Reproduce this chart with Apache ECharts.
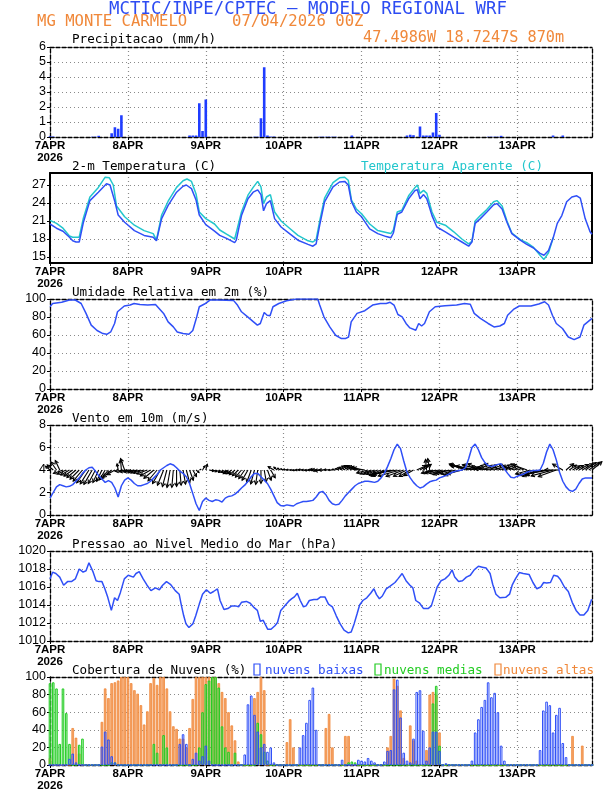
<!DOCTYPE html>
<html><head><meta charset="utf-8">
<script src="https://cdn.jsdelivr.net/npm/echarts@6/dist/echarts.min.js"></script>
<style>html,body{margin:0;padding:0;background:#fff}#c{width:612px;height:792px}</style>
</head><body><div id="c"></div>
<script>
// ---------- labels ----------
const dayLabels = ['7APR','8APR','9APR','10APR','11APR','12APR','13APR'];
const yearLabel = '2026';
const dayTicks = [0,24,48,72,96,120,144];
const tempTicks = [15,18,21,24,27];

// ---------- precipitation (mm/h), hour -> value ----------
const precipByHour = {0:0.05,1:0.03,13:0.02,14:0.02,15:0.08,19:0.25,20:0.65,21:0.55,22:1.45,
  43:0.1,44:0.1,45:0.1,46:2.25,47:0.4,48:2.5,63:0.02,64:0.02,65:1.25,66:4.65,67:0.1,68:0.03,69:0.03,
  83:0.02,84:0.02,85:0.02,86:0.02,87:0.02,88:0.02,93:0.1,110:0.1,111:0.15,112:0.12,114:0.7,115:0.1,116:0.1,117:0.1,
  118:0.3,119:1.6,120:0.15,135:0.02,136:0.02,137:0.02,138:0.02,139:0.08,155:0.1,158:0.1};

// ---------- temperature (C), [hour, value] ----------
const tempAir = [[0,20.5],[2,19.8],[4,19.3],[6,18.3],[7,17.7],[8,17.5],[9,17.5],[9.5,17.7],[10.3,20.8],[12.3,24.4],[14.9,25.8],[17.4,27.2],[18.5,27.0],[20,24.2],[21,22],[23,20.8],[26,19.4],[29,18.6],[31.8,18.3],[32.8,17.7],[34.4,21.4],[36.4,23.6],[39,25.8],[41,26.8],[42,27.0],[43.6,26.4],[45,24.5],[46,22],[48,20.4],[50.7,19.3],[52.3,18.6],[54.4,18.1],[56.9,17.4],[57.4,17.8],[59,21.9],[61,24.7],[62.6,25.8],[64,26.2],[65,25.4],[65.8,22.7],[66.7,23.9],[67.9,24.4],[69.2,21.4],[71.2,20],[73.8,18.9],[76.4,17.8],[79.5,17.1],[81,16.8],[82,17.2],[83.1,20.3],[84.6,24.2],[87.2,26.7],[89.2,27.5],[90.8,27.6],[91.9,27.0],[92.9,24.2],[94.4,22.5],[96,21.7],[98.5,19.7],[101,18.9],[103.6,18.4],[105,18.2],[105.8,19.0],[107,22.1],[108.4,22.5],[110.5,24.7],[112.5,26.1],[113.2,26.2],[114,24.7],[115.1,25.4],[116.1,24.7],[117.7,21.9],[119.2,20],[121.8,19.2],[124.4,18.3],[126.9,17.5],[129,16.8],[130,17.5],[131,20.6],[132.6,21.4],[134.6,22.5],[136.7,23.7],[137.7,23.9],[139.3,23],[140.8,20.8],[142.3,18.9],[144.9,17.8],[146.9,17.1],[149,16.5],[151,15.6],[152.2,15.3],[153.6,16.1],[155.1,18.3],[156.3,20.6],[157.7,21.9],[159.2,24.2],[160.8,25],[162.3,25.2],[163.4,24.8],[164.9,21.4],[166.4,19.2],[167,18.8]];
const tempApparent = [[0,21.1],[2,20.6],[4,19.8],[6,18.5],[7,18.3],[9,18.3],[9.6,18.6],[10.3,21.5],[12.3,25],[14.9,26.6],[17,28.3],[18.3,28.2],[19.5,27],[20.5,23.5],[23,21.7],[26,20.3],[29,19.4],[31.8,18.9],[32.8,17.8],[34.4,22],[36.4,24.3],[39,26.6],[41,27.7],[42.2,28],[43.6,27.6],[45,25.5],[46,22.5],[48,21.4],[50.7,20.5],[52.3,19.5],[54.4,18.8],[56.9,18],[57.4,18.2],[59,22.5],[61,25.3],[62.6,26.6],[64,27.6],[65,26.7],[65.8,23.9],[66.7,25],[67.9,25.4],[69.2,22.5],[71.2,21],[73.8,19.8],[76.4,18.6],[79.5,17.7],[81,17.5],[82,17.9],[83.1,21],[84.6,24.8],[87.2,27.4],[89.2,28.2],[90.8,28.3],[91.9,27.8],[92.9,24.5],[94.4,23],[96,22.2],[98.5,20.5],[101,19.4],[103.6,19.1],[105,18.9],[105.8,19.5],[107,22.5],[108.4,22.8],[110.5,25.2],[112.5,26.6],[113.2,27],[114,25.6],[115.1,26.1],[116.1,25.6],[117.7,22.5],[119.2,20.8],[121.8,20.3],[124.4,19.2],[126.9,18],[129,17.2],[130,17.6],[131,21],[132.6,21.9],[134.6,22.9],[136.7,24.2],[137.7,24.4],[139.3,23.5],[140.8,21],[142.3,19],[144.9,17.9],[146.9,17.4],[149,16.6],[151,15.3],[152.2,14.6],[153.6,15.7],[155.1,18.3]];

// ---------- relative humidity (%) ----------
const relHum = [[0,91.4],[0.8,95],[3.6,96.3],[6,98.9],[7.8,98.9],[9.6,95],[11.1,84],[12.7,71],[14.5,65],[16.3,61.6],[17.5,60.8],[18.7,63.4],[19.9,72.8],[20.8,85.8],[22.9,92.2],[24.7,93.3],[25.9,95],[27.7,93.8],[30.1,93.3],[32.5,94],[32.9,95],[35,84],[36.4,74.6],[38,69],[39.2,63.4],[41,61.6],[42.8,60.8],[44,65],[45.2,80],[46,91.4],[47.6,94.4],[49.4,98.9],[51.8,98.9],[56.6,98.2],[57.8,93],[59,85.8],[60.9,80.2],[62.7,74.6],[63.9,70.9],[64.8,72.8],[66,85],[66.9,82],[67.8,81.3],[68.7,91.4],[70.5,95],[72.9,98],[75.9,100],[82.5,100],[83.1,93.3],[84.4,80.2],[86.2,69],[88,59.7],[89.8,56],[91,56],[92,57.8],[92.8,74.6],[94.6,84],[97,87],[99.4,93.3],[101.8,95],[103.6,95],[104.8,96.3],[106,93.3],[107.2,82.8],[108.5,80.2],[109.7,72.8],[110.9,67.9],[112.7,65.3],[113.6,72.8],[114.5,70],[115.4,72.8],[116.9,85.8],[118.7,91.4],[121.7,92.5],[125.3,93.3],[127.7,95],[129.5,94.2],[130.7,84],[132.6,78.4],[135,72.8],[136.8,69],[138.6,70],[140,72.8],[141,82],[142.8,88.4],[144.6,92.2],[148.2,92.2],[150.6,94.4],[152.4,97],[153.6,93.3],[154.8,82],[156,72.8],[157.9,67.2],[159.7,57.8],[161.5,54.8],[163.3,57.8],[164.5,70.9],[167,78.4]];

// ---------- wind 10 m: hourly speed (m/s) and direction the arrow points (deg, 0=east, 90=north) ----------
const windSpeed = [
 1.5,2.0,2.5,2.7,2.6,2.5,2.55,2.7,3.0,3.3,3.7,4.0,4.2,4.25,3.9,3.5,3.2,2.9,3.05,2.9,2.4,1.6,2.6,3.1,
 3.3,3.1,2.8,2.6,2.6,2.7,2.8,3.0,3.3,3.6,4.0,4.2,4.4,4.55,4.45,4.2,3.9,3.7,3.4,2.8,1.9,1.0,0.4,1.2,
 1.5,1.3,1.2,1.35,1.3,1.15,1.5,1.65,1.7,1.85,2.1,2.4,2.65,3.0,3.4,3.7,3.7,3.4,3.1,2.8,2.3,1.7,1.1,0.85,
 0.8,0.9,0.85,0.8,1.0,1.1,1.2,1.2,1.25,1.3,1.6,2.0,2.1,1.8,1.3,1.0,0.9,0.95,1.3,1.7,2.0,2.3,2.6,2.8,
 2.9,3.0,3.0,2.95,2.9,3.0,3.3,3.7,4.3,5.0,5.8,6.3,5.9,4.8,3.8,3.3,2.9,2.6,2.4,2.5,2.75,2.95,3.05,3.1,
 3.3,3.4,3.5,3.65,3.8,3.9,3.95,4.0,4.2,5.0,6.0,6.3,5.8,5.1,4.65,4.4,4.3,4.4,4.5,4.55,4.1,3.7,3.35,3.3,
 3.45,3.55,3.65,3.8,3.9,3.95,3.95,4.0,4.6,5.6,6.3,5.8,4.9,3.8,3.0,2.5,2.2,2.1,2.3,2.8,3.2,3.3,3.3,3.3];
const windDir = [
 140,140,125,115,200,205,210,215,220,225,230,235,238,240,242,245,245,240,230,220,210,100,95,110,
 185,188,190,192,195,195,200,210,220,230,240,248,255,260,265,270,275,280,285,290,300,320,20,60,
 75,350,340,335,330,330,320,215,215,220,225,230,235,240,250,255,262,270,280,290,300,150,140,150,
 160,170,175,180,185,180,175,180,185,180,175,180,185,180,175,180,170,160,155,155,150,150,155,160,
 165,170,195,200,200,200,205,205,200,195,190,190,195,200,205,210,210,25,30,35,95,100,195,195,
 190,195,200,195,190,195,200,195,160,165,165,170,170,165,160,170,175,170,165,160,165,160,155,160,
 165,160,155,160,195,200,205,200,195,190,190,195,200,180,150,40,35,30,30,30,30,35,35,40];
const windArrowBase = 4;

// ---------- sea level pressure (hPa) ----------
const pressure = [[0,1016.9],[0.8,1017.65],[1.8,1017.5],[3,1017.1],[4.2,1016.2],[5.4,1016.6],[6.6,1016.6],[7.8,1016.9],[9,1018],[9.6,1018.2],[10.2,1017.65],[11.1,1017.8],[12,1018.7],[13.3,1017.65],[14.2,1016.7],[15.1,1016.6],[16,1016.6],[16.9,1015.8],[17.8,1014.85],[18.9,1013.4],[19.9,1014.8],[20.8,1014.5],[21.7,1015.4],[22.9,1016.9],[24.1,1017.3],[25.7,1017.1],[26.5,1017.5],[27.5,1017.7],[28.7,1016.9],[29.9,1016.2],[31.1,1015.6],[32.5,1015.9],[33.7,1015.7],[34.7,1016.2],[35.9,1016.6],[37.1,1016.3],[38.6,1015.6],[39.8,1015.2],[40.4,1014.1],[41.2,1012.8],[41.9,1011.9],[42.8,1011.5],[44,1011.9],[44.9,1012.8],[46,1014.1],[47,1015.2],[48.2,1015.7],[49.4,1015.3],[50.4,1015.5],[51.6,1015.8],[52.4,1014.5],[53.6,1013.5],[54.8,1013.6],[56,1013.9],[57.2,1013.9],[58.1,1013.8],[59,1014.3],[60.5,1014.4],[61.7,1014.2],[62.9,1013.7],[63.9,1013.4],[64.8,1012.2],[65.7,1012.3],[66.3,1012.1],[67.1,1011.3],[68.1,1011.3],[69.3,1011.7],[70.1,1012.05],[71.1,1013.4],[72.3,1013.9],[73.5,1014.4],[74.5,1014.7],[75.3,1014.9],[76.2,1015.3],[77.1,1014.5],[78.1,1013.8],[78.9,1013.9],[79.9,1014.5],[81.3,1014.6],[82.3,1014.6],[83.4,1014.9],[84.7,1014.9],[85.8,1014.1],[87,1013.8],[88.2,1012.8],[89.4,1011.9],[90.6,1011.2],[91.9,1010.9],[92.8,1011.0],[93.7,1011.9],[94.6,1013],[95.4,1014],[96.4,1014.5],[97.6,1014.8],[98.8,1015.3],[99.8,1015.8],[100.6,1015.15],[101.5,1014.7],[102.4,1015],[103.6,1015.8],[104.8,1016.1],[106.3,1016.5],[107.2,1016.9],[108.5,1017.5],[109.7,1016.7],[110.9,1016.2],[111.8,1015.9],[112.7,1014.5],[113.9,1014.2],[115.1,1013.6],[116.5,1013.6],[117.5,1013.9],[118.3,1014.85],[119.3,1016],[120.5,1016.7],[121.7,1016.9],[122.9,1017.3],[123.9,1017.9],[124.7,1017.1],[125.9,1016.6],[127.1,1016.7],[128.3,1017.1],[129.5,1017.3],[130.7,1017.9],[132,1018.3],[133.2,1018.2],[134.4,1018.1],[135.6,1017.5],[136.4,1016.3],[137.4,1015.2],[138.6,1014.8],[140.4,1014.85],[141.6,1015.2],[142.4,1016.2],[143.4,1016.9],[144.6,1017.6],[145.8,1017.5],[147.6,1017.4],[148.8,1016.5],[150,1015.8],[151.2,1016],[152.1,1016.5],[153,1016.45],[154.2,1016.5],[155.2,1017.3],[156.4,1017.2],[157.3,1016.8],[158.5,1016],[159.7,1015.5],[160.9,1014.3],[162.1,1013.4],[163.3,1012.9],[164.5,1012.9],[165.7,1013.4],[166.9,1014.65]];

// ---------- cloud cover (%), hour -> value ----------
const cloudHigh = {0:8,7:42,8:31,9:13,16:49,17:87,18:76,19:93,20:94,21:96,22:100,23:100,24:100,25:93,26:85,27:81,28:68,29:46,30:61,31:93,32:99,33:91,34:100,35:100,36:87,37:61,38:44,39:41,40:30,41:30,42:20,43:42,44:75,45:100,46:100,47:100,48:100,49:100,50:100,51:100,52:93,53:83,54:76,55:60,56:45,57:28,58:4,
  63:76,64:83,65:100,66:85,73:26,74:52,75:20,85:42,86:58,87:20,91:33,92:33,104:20,105:33,106:98,107:90,108:62,109:8,111:45,112:28,113:5,116:17,117:80,118:83,119:80,120:37,161:33,164:22};
const cloudMid = {0:93,1:94,2:87,3:24,4:87,5:59,6:24,9:23,10:30,19:3,20:3,32:24,33:14,35:34,36:20,46:20,47:60,48:92,49:96,50:100,51:100,52:88,53:44,54:20,55:15,57:14,
  64:48,65:35,66:15,67:5,92:3,93:4,94:3,118:70,119:90,120:22};
const cloudLow = {6:7,7:13,8:3,16:21,17:38,18:29,19:10,20:3,40:24,41:35,42:24,44:7,45:14,46:5,47:10,48:22,49:5,60:12,61:69,62:79,63:57,64:38,65:20,66:24,67:15,68:20,69:3,
  77:20,78:34,79:48,80:74,81:88,82:40,90:6,95:6,96:5,97:4,98:8,99:5,100:3,103:4,104:16,105:17,106:86,107:97,108:54,109:14,110:5,111:3,112:30,113:83,114:85,115:39,116:5,117:20,118:38,119:38,120:16,122:2,
  130:5,131:37,132:52,133:66,134:74,135:94,136:77,137:82,138:60,139:22,140:5,151:17,152:62,153:72,154:68,155:37,156:57,157:65,158:25,159:9};

// ---------- layout & styles ----------
const N_HOURS = 168, X_MAX = 167;
const GRID_TOPS = [47,173,299,425,551,677], GRID_H = 90, GRID_L = 50, GRID_R = 20;
const BLUE = '#2f4ff7', CYAN = '#22c6cc', ORANGE = '#f0883a', GREEN = '#22cc22', TITLE_BLUE = '#2d4cf2';
const MONO = "'DejaVu Sans Mono', monospace";
const ARROW_PX = 3.9;

const hours = Array.from({length: N_HOURS}, (_, h) => h);
const fromMap = m => hours.map(h => [h, m[h] || 0]);

const grids = GRID_TOPS.map(t => ({left: GRID_L, right: GRID_R, top: t, height: GRID_H}));
const xAxes = [], yAxes = [];
const gridLine = {color: '#8a8a8a', width: 1.2, type: [1, 3]};
const yLabelBase = {margin: 4, color: '#000', fontSize: 12.5, fontFamily: "'Liberation Sans',sans-serif", formatter: v => String(v)};

function addPanel(i, yOpt, solid) {
  const ls = solid ? {color: '#000', width: 2} : {color: '#000', width: 1.3, type: [4, 2]};
  xAxes.push({gridIndex: i, type: 'value', min: 0, max: X_MAX, position: 'bottom',
    axisLine: {show: true, onZero: false, lineStyle: ls},
    axisTick: {show: true, length: 3, customValues: dayTicks, lineStyle: {color: '#000'}},
    axisLabel: {customValues: dayTicks, margin: 3, color: '#000', fontSize: 11.5, fontWeight: 'bold',
      fontFamily: "'Liberation Sans Narrow','Liberation Sans',sans-serif", lineHeight: 12,
      formatter: v => { const k = Math.round(v / 24); return k === 0 ? dayLabels[0] + '\n' + yearLabel : dayLabels[k]; }},
    splitLine: {show: true, lineStyle: gridLine}});
  xAxes.push({gridIndex: i, type: 'value', min: 0, max: X_MAX, position: 'top',
    axisLine: {show: true, onZero: false, lineStyle: ls}, axisTick: {show: false}, axisLabel: {show: false}, splitLine: {show: false}});
  yAxes.push(Object.assign({gridIndex: i, type: 'value', position: 'left',
    axisLine: {show: true, onZero: false, lineStyle: ls},
    axisTick: {show: true, length: 3, lineStyle: {color: '#000'}},
    axisLabel: yLabelBase,
    splitLine: {show: true, lineStyle: gridLine}}, yOpt));
  yAxes.push({gridIndex: i, type: 'value', position: 'right', min: yOpt.min, max: yOpt.max,
    axisLine: {show: true, onZero: false, lineStyle: ls}, axisTick: {show: false}, axisLabel: {show: false}, splitLine: {show: false}});
}
addPanel(0, {min: 0, max: 6, interval: 1}, false);
addPanel(1, {min: 14, max: 29, axisTick: {show: true, length: 3, customValues: tempTicks, lineStyle: {color: '#000'}},
  axisLabel: Object.assign({}, yLabelBase, {customValues: tempTicks})}, true);
addPanel(2, {min: 0, max: 100, interval: 20}, false);
addPanel(3, {min: 0, max: 8, interval: 2}, false);
addPanel(4, {min: 1010, max: 1020, interval: 2}, false);
addPanel(5, {min: 0, max: 100, interval: 20}, false);

const ax = i => ({xAxisIndex: 2 * i, yAxisIndex: 2 * i});
const lineS = (i, data, color, z) => Object.assign({type: 'line', data, showSymbol: false, symbol: 'none',
  lineStyle: {color, width: 1.5}, itemStyle: {color}, z: z || 3, silent: true}, ax(i));

const series = [
  Object.assign({type: 'bar', data: fromMap(precipByHour), barWidth: 2.6, itemStyle: {color: '#1f3cff'}}, ax(0)),
  lineS(1, tempApparent, CYAN, 3),
  lineS(1, tempAir, BLUE, 4),
  lineS(2, relHum, BLUE),
  Object.assign({type: 'custom', z: 3, silent: true,
    data: hours.map(h => [h, windArrowBase, windSpeed[h], windDir[h]]),
    renderItem: (params, api) => {
      const p = api.coord([api.value(0), api.value(1)]);
      const L = api.value(2) * ARROW_PX, d = api.value(3) * Math.PI / 180;
      const tx = p[0] + L * Math.cos(d), ty = p[1] - L * Math.sin(d);
      const back = Math.atan2(p[1] - ty, p[0] - tx), hl = Math.min(4, L * 0.45), a = 0.5;
      return {type: 'group', children: [
        {type: 'line', shape: {x1: p[0], y1: p[1], x2: tx, y2: ty}, style: {stroke: '#000', lineWidth: 1.1}},
        {type: 'polyline', shape: {points: [[tx + hl * Math.cos(back + a), ty + hl * Math.sin(back + a)], [tx, ty],
          [tx + hl * Math.cos(back - a), ty + hl * Math.sin(back - a)]]}, style: {stroke: '#000', fill: null, lineWidth: 1.1}}
      ]};
    }}, ax(3)),
  lineS(3, hours.map(h => [h, windSpeed[h]]), BLUE, 5),
  lineS(4, pressure, BLUE),
  Object.assign({type: 'bar', data: fromMap(cloudHigh), barWidth: 2.6, barGap: '-100%',
    itemStyle: {color: '#f5a468', borderColor: ORANGE, borderWidth: 0.8}}, ax(5)),
  Object.assign({type: 'bar', data: fromMap(cloudMid), barWidth: 2.6, barGap: '-100%',
    itemStyle: {color: 'rgba(130,230,130,0.55)', borderColor: GREEN, borderWidth: 1}}, ax(5)),
  Object.assign({type: 'bar', data: fromMap(cloudLow), barWidth: 2.6, barGap: '-100%',
    itemStyle: {color: 'rgba(255,255,255,0)', borderColor: BLUE, borderWidth: 1}}, ax(5))
];

const txt = (text, x, y, fill, size, align) => ({type: 'text', silent: true, z: 10,
  style: {text, x, y, fill, font: size + 'px ' + MONO, textAlign: align || 'left', textVerticalAlign: 'middle', align: align || 'left', verticalAlign: 'middle'}});
const box = (x, y, color) => ({type: 'rect', silent: true, z: 10, shape: {x, y, width: 6, height: 11}, style: {fill: 'none', stroke: color, lineWidth: 1.2}});

const graphic = [
  txt('MCTIC/INPE/CPTEC \u2013 MODELO REGIONAL WRF', 308, 9.5, TITLE_BLUE, 17.4, 'center'),
  txt('MG MONTE CARMELO', 37, 21.5, ORANGE, 15.6),
  txt('07/04/2026 00Z', 232, 21.5, ORANGE, 15.6),
  txt('47.4986W 18.7247S 870m', 363, 38, ORANGE, 15.2),
  txt('Precipitacao (mm/h)', 72, 39.5, '#000', 12.6),
  txt('2-m Temperatura (C)', 72, 166.5, '#000', 12.6),
  txt('Temperatura Aparente (C)', 361, 166.5, CYAN, 12.6),
  txt('Umidade Relativa em 2m (%)', 72, 292.5, '#000', 12.6),
  txt('Vento em 10m (m/s)', 72, 418.5, '#000', 12.6),
  txt('Pressao ao Nivel Medio do Mar (hPa)', 72, 544.5, '#000', 12.6),
  txt('Cobertura de Nuvens (%)', 72, 670.5, '#000', 12.6),
  box(254, 664, BLUE), txt('nuvens baixas', 265, 670.5, BLUE, 12.6),
  box(375, 664, GREEN), txt('nuvens medias', 384, 670.5, GREEN, 12.6),
  box(495, 664, ORANGE), txt('nuvens altas', 503, 670.5, ORANGE, 12.6)
];

const chart = echarts.init(document.getElementById('c'), null, {renderer: 'canvas'});
chart.setOption({animation: false, backgroundColor: '#fff', grid: grids, xAxis: xAxes, yAxis: yAxes, series, graphic});
</script>
</body></html>
